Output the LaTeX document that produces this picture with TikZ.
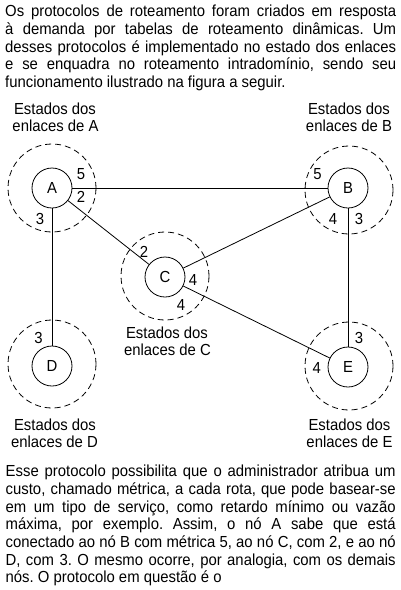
\documentclass[tikz,border=0pt]{standalone}
\usepackage{fontspec}
\setmainfont{Liberation Sans}[FakeStretch=0.93]
\frenchspacing
\begin{document}
\frenchspacing
\begin{tikzpicture}[x=1pt,y=-1pt,
  every node/.style={font=\fontsize{16}{17.67}\selectfont\frenchspacing},
  txt/.style={anchor=base west,inner sep=0pt},
  lbl/.style={anchor=base,inner sep=0pt},
  num/.style={inner sep=0pt},
  router/.style={draw,circle,minimum size=40pt,inner sep=0pt,line width=0.8pt},
  zone/.style={draw,circle,minimum size=88pt,inner sep=0pt,line width=0.8pt,dash pattern=on 6pt off 4pt},
  link/.style={line width=0.8pt}]
\useasboundingbox (0,0) rectangle (401,590);
% top paragraph
\node[txt] (t1) at (5,16.7) {\makebox[391pt][s]{Os protocolos de roteamento foram criados em resposta}};
\node[txt] (t2) at (5,34.35) {\makebox[391pt][s]{à demanda por tabelas de roteamento dinâmicas. Um}};
\node[txt] (t3) at (5,52.0) {\makebox[391pt][s]{desses protocolos é implementado no estado dos enlaces}};
\node[txt] (t4) at (5,69.65) {\makebox[391pt][s]{e se enquadra no roteamento intradomínio, sendo seu}};
\node[txt] (t5) at (5,87.3) {funcionamento ilustrado na figura a seguir.};
% zones
\node[zone] (zA) at (52,188) {};
\node[zone] (zB) at (349,190) {};
\node[zone] (zC) at (165,276) {};
\node[zone] (zD) at (52,364) {};
\node[zone] (zE) at (349,366) {};
% routers
\node[router] (A) at (52,188) {A};
\node[router] (B) at (348,188) {B};
\node[router] (C) at (165,277) {C};
\node[router] (D) at (52,366) {D};
\node[router] (E) at (348,367) {E};
% links
\draw[link] (A) -- (B);
\draw[link] (A) -- (C);
\draw[link] (A) -- (D);
\draw[link] (B) -- (C);
\draw[link] (B) -- (E);
\draw[link] (C) -- (E);
% metrics
\node[num] (a5) at (81,174.5) {5};
\node[num] (a2) at (81,197) {2};
\node[num] (a3) at (40,219) {3};
\node[num] (b5) at (317.5,174.5) {5};
\node[num] (b4) at (333,219) {4};
\node[num] (b3) at (359,219) {3};
\node[num] (c2) at (144,251.7) {2};
\node[num] (c4a) at (193,280) {4};
\node[num] (c4b) at (181,305) {4};
\node[num] (d3) at (38.5,337.5) {3};
\node[num] (e3) at (359,337.5) {3};
\node[num] (e4) at (316.7,367.5) {4};
% state labels
\node[lbl] (lA1) at (55,114.3) {Estados dos};
\node[lbl] (lA2) at (55.5,131.5) {enlaces de A};
\node[lbl] (lB1) at (349,114.3) {Estados dos};
\node[lbl] (lB2) at (349,131.5) {enlaces de B};
\node[lbl] (lC1) at (167,338.3) {Estados dos};
\node[lbl] (lC2) at (167.5,355.5) {enlaces de C};
\node[lbl] (lD1) at (55,430) {Estados dos};
\node[lbl] (lD2) at (54.5,447.5) {enlaces de D};
\node[lbl] (lE1) at (349.5,430) {Estados dos};
\node[lbl] (lE2) at (349.5,447.5) {enlaces de E};
% bottom paragraph
\node[txt] (u1) at (5.5,476.7) {\makebox[390pt][s]{Esse protocolo possibilita que o administrador atribua um}};
\node[txt] (u2) at (5.5,494.37) {\makebox[390pt][s]{custo, chamado métrica, a cada rota, que pode basear-se}};
\node[txt] (u3) at (5.5,512.04) {\makebox[390pt][s]{em um tipo de serviço, como retardo mínimo ou vazão}};
\node[txt] (u4) at (5.5,529.71) {\makebox[390pt][s]{máxima, por exemplo. Assim, o nó A sabe que está}};
\node[txt] (u5) at (5.5,547.38) {\makebox[390pt][s]{conectado ao nó B com métrica 5, ao nó C, com 2, e ao nó}};
\node[txt] (u6) at (5.5,565.05) {\makebox[390pt][s]{D, com 3. O mesmo ocorre, por analogia, com os demais}};
\node[txt] (u7) at (5.5,582.7) {nós. O protocolo em questão é o};
\end{tikzpicture}
\end{document}
